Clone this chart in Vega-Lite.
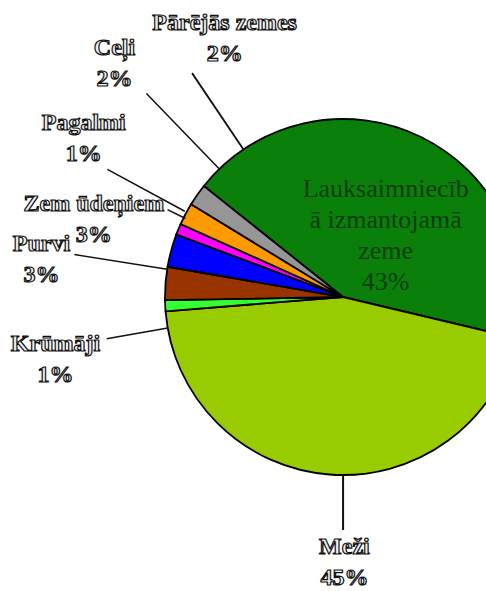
{
  "$schema": "https://vega.github.io/schema/vega-lite/v6.json",
  "width": 286,
  "height": 588,
  "autosize": {"type": "none"},
  "padding": {"left": 200, "top": 3, "right": 0, "bottom": 0},
  "background": "#ffffff",
  "view": {"stroke": null},
  "data": {
    "values": [
      {"k": 1, "name": "Lauksaimniecībā izmantojamā zeme", "value": 43, "label": "Lauksaimniecīb\nā izmantojamā\nzeme\n43%"},
      {"k": 2, "name": "Meži", "value": 45, "label": "Meži\n45%"},
      {"k": 3, "name": "Krūmāji", "value": 1, "label": "Krūmāji\n1%"},
      {"k": 4, "name": "Purvi", "value": 3, "label": "Purvi\n3%"},
      {"k": 5, "name": "Zem ūdeņiem", "value": 3, "label": "Zem ūdeņiem\n3%"},
      {"k": 6, "name": "Pagalmi", "value": 1, "label": "Pagalmi\n1%"},
      {"k": 7, "name": "Ceļi", "value": 2, "label": "Ceļi\n2%"},
      {"k": 8, "name": "Pārējās zemes", "value": 2, "label": "Pārējās zemes\n2%"}
    ]
  },
  "encoding": {
    "theta": {"field": "value", "type": "quantitative", "stack": true, "scale": {"range": [5.386, 11.669]}},
    "order": {"field": "k", "type": "quantitative"}
  },
  "layer": [
    {
      "mark": {"type": "arc", "outerRadius": 178, "stroke": "#000000", "strokeWidth": 1.8},
      "encoding": {
        "color": {
          "field": "name",
          "type": "nominal",
          "legend": null,
          "scale": {
            "domain": ["Lauksaimniecībā izmantojamā zeme", "Meži", "Krūmāji", "Purvi", "Zem ūdeņiem", "Pagalmi", "Ceļi", "Pārējās zemes"],
            "range": ["#0a800a", "#99cc00", "#33ff33", "#993300", "#0000ff", "#ff00ff", "#ff9900", "#969696"]
          }
        }
      }
    },
    {
      "mark": {"type": "arc", "innerRadius": 178, "outerRadius": 233, "padAngle": 3, "thetaOffset": -0.077, "fill": "transparent", "stroke": "#111111", "strokeWidth": 2},
      "encoding": {"strokeOpacity": {"condition": {"test": "datum.k === 2", "value": 1}, "value": 0}}
    },
    {
      "mark": {"type": "arc", "innerRadius": 178, "outerRadius": 240, "padAngle": 3, "thetaOffset": -0.126, "fill": "transparent", "stroke": "#111111", "strokeWidth": 1.5},
      "encoding": {"strokeOpacity": {"condition": {"test": "datum.k === 3", "value": 1}, "value": 0}}
    },
    {
      "mark": {"type": "arc", "innerRadius": 178, "outerRadius": 272, "padAngle": 3, "thetaOffset": 0.08, "fill": "transparent", "stroke": "#111111", "strokeWidth": 1.5},
      "encoding": {"strokeOpacity": {"condition": {"test": "datum.k === 4", "value": 1}, "value": 0}}
    },
    {
      "mark": {"type": "arc", "innerRadius": 176, "outerRadius": 196, "padAngle": 3, "thetaOffset": 0.197, "fill": "transparent", "stroke": "#111111", "strokeWidth": 1.5},
      "encoding": {"strokeOpacity": {"condition": {"test": "datum.k === 5", "value": 1}, "value": 0}}
    },
    {
      "mark": {"type": "arc", "innerRadius": 180, "outerRadius": 268, "padAngle": 3, "thetaOffset": 0.106, "fill": "transparent", "stroke": "#111111", "strokeWidth": 1.5},
      "encoding": {"strokeOpacity": {"condition": {"test": "datum.k === 6", "value": 1}, "value": 0}}
    },
    {
      "mark": {"type": "arc", "innerRadius": 178, "outerRadius": 283, "padAngle": 3, "thetaOffset": 0.318, "fill": "transparent", "stroke": "#111111", "strokeWidth": 1.5},
      "encoding": {"strokeOpacity": {"condition": {"test": "datum.k === 7", "value": 1}, "value": 0}}
    },
    {
      "mark": {"type": "arc", "innerRadius": 178, "outerRadius": 270, "padAngle": 3, "thetaOffset": 0.367, "fill": "transparent", "stroke": "#111111", "strokeWidth": 1.8},
      "encoding": {"strokeOpacity": {"condition": {"test": "datum.k === 8", "value": 1}, "value": 0}}
    },
    {
      "mark": {"type": "text", "radius": 75, "thetaOffset": 0.152, "dy": -46, "lineBreak": "\n", "lineHeight": 31, "font": "Liberation Serif", "fontSize": 26, "fill": "#0d3d0d", "align": "center", "baseline": "middle"},
      "encoding": {"text": {"condition": {"test": "datum.k === 1", "field": "label"}, "value": ""}}
    },
    {
      "mark": {"type": "text", "radius": 265, "thetaOffset": -0.082, "dy": -15, "lineBreak": "\n", "lineHeight": 31, "font": "Liberation Serif", "fontWeight": "bold", "fontSize": 24, "fill": "#eeeeee", "stroke": "#111111", "strokeWidth": 1.2, "align": "center", "baseline": "middle"},
      "encoding": {"text": {"condition": {"test": "datum.k === 2", "field": "label"}, "value": ""}}
    },
    {
      "mark": {"type": "text", "radius": 294, "thetaOffset": -0.162, "dy": -15, "lineBreak": "\n", "lineHeight": 31, "font": "Liberation Serif", "fontWeight": "bold", "fontSize": 24, "fill": "#eeeeee", "stroke": "#111111", "strokeWidth": 1.2, "align": "center", "baseline": "middle"},
      "encoding": {"text": {"condition": {"test": "datum.k === 3", "field": "label"}, "value": ""}}
    },
    {
      "mark": {"type": "text", "radius": 304, "thetaOffset": 0.049, "dy": -15, "lineBreak": "\n", "lineHeight": 31, "font": "Liberation Serif", "fontWeight": "bold", "fontSize": 24, "fill": "#eeeeee", "stroke": "#111111", "strokeWidth": 1.2, "align": "center", "baseline": "middle"},
      "encoding": {"text": {"condition": {"test": "datum.k === 4", "field": "label"}, "value": ""}}
    },
    {
      "mark": {"type": "text", "radius": 261, "thetaOffset": 0.037, "dy": -15, "lineBreak": "\n", "lineHeight": 31, "font": "Liberation Serif", "fontWeight": "bold", "fontSize": 24, "fill": "#eeeeee", "stroke": "#111111", "strokeWidth": 1.2, "align": "center", "baseline": "middle"},
      "encoding": {"text": {"condition": {"test": "datum.k === 5", "field": "label"}, "value": ""}}
    },
    {
      "mark": {"type": "text", "radius": 304, "thetaOffset": 0.159, "dy": -15, "lineBreak": "\n", "lineHeight": 31, "font": "Liberation Serif", "fontWeight": "bold", "fontSize": 24, "fill": "#eeeeee", "stroke": "#111111", "strokeWidth": 1.2, "align": "center", "baseline": "middle"},
      "encoding": {"text": {"condition": {"test": "datum.k === 6", "field": "label"}, "value": ""}}
    },
    {
      "mark": {"type": "text", "radius": 327, "thetaOffset": 0.312, "dy": -15, "lineBreak": "\n", "lineHeight": 31, "font": "Liberation Serif", "fontWeight": "bold", "fontSize": 24, "fill": "#eeeeee", "stroke": "#111111", "strokeWidth": 1.2, "align": "center", "baseline": "middle"},
      "encoding": {"text": {"condition": {"test": "datum.k === 7", "field": "label"}, "value": ""}}
    },
    {
      "mark": {"type": "text", "radius": 285, "thetaOffset": 0.532, "dy": -15, "lineBreak": "\n", "lineHeight": 31, "font": "Liberation Serif", "fontWeight": "bold", "fontSize": 24, "fill": "#eeeeee", "stroke": "#111111", "strokeWidth": 1.2, "align": "center", "baseline": "middle"},
      "encoding": {"text": {"condition": {"test": "datum.k === 8", "field": "label"}, "value": ""}}
    }
  ]
}
